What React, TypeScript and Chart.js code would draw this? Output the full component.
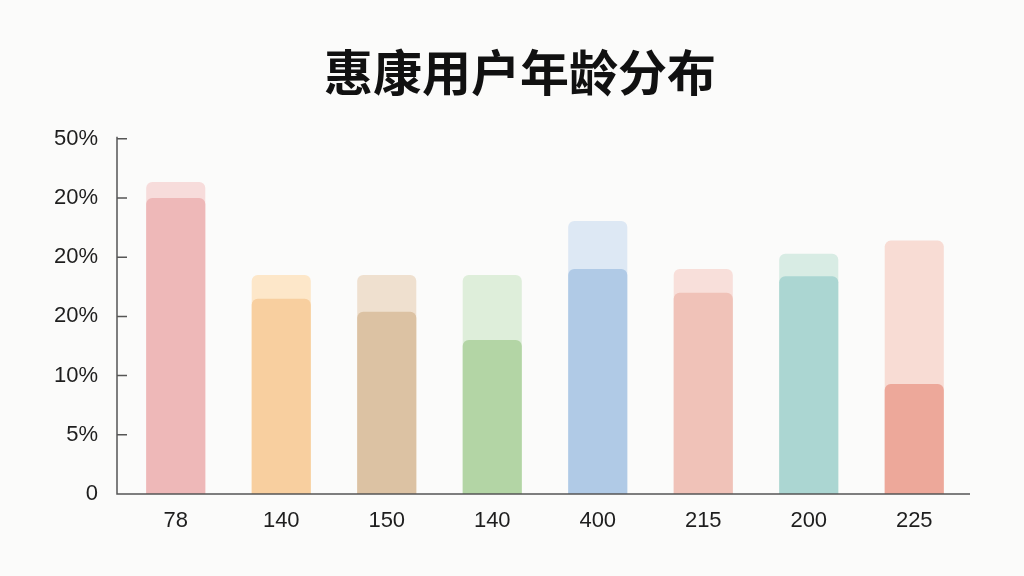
import { useEffect, useRef } from 'react';
import { Chart, registerables } from 'chart.js';

Chart.register(...registerables);

const categories = ['78', '140', '150', '140', '400', '215', '200', '225'];
const frontValues = [5.0, 3.3, 3.08, 2.6, 3.8, 3.4, 3.68, 1.86];
const backValues = [5.27, 3.7, 3.7, 3.7, 4.61, 3.8, 4.06, 4.28];
const yTickLabels = ['0', '5%', '10%', '20%', '20%', '20%', '50%'];

const frontColors = ['#eeb8b8', '#f8cf9f', '#dcc2a3', '#b3d5a5', '#b0cae6', '#f0c2b8', '#abd6d2', '#eda89a'];
const backColors = ['#f7dcdb', '#fde7c9', '#efe0cf', '#deeeda', '#dde8f4', '#f8dfda', '#d8ece4', '#f8dcd4'];

// axis lines with short ticks pointing into the plot
const axisPlugin = {
  id: 'axisLines',
  afterDatasetsDraw(chart: any) {
    const { ctx, chartArea, scales } = chart;
    const y = scales.y;
    const x0 = chartArea.left - 6;
    ctx.save();
    ctx.strokeStyle = '#555';
    ctx.lineWidth = 1.5;
    ctx.beginPath();
    ctx.moveTo(x0, chartArea.top - 2);
    ctx.lineTo(x0, chartArea.bottom);
    ctx.lineTo(chartArea.right + 3, chartArea.bottom);
    y.ticks.forEach((t: any) => {
      if (t.value === 0) return;
      const py = y.getPixelForValue(t.value);
      ctx.moveTo(x0, py);
      ctx.lineTo(x0 + 10, py);
    });
    ctx.stroke();
    ctx.restore();
  },
};

export default function App() {
  const chartRef = useRef<HTMLCanvasElement>(null);
  const chartInstance = useRef<Chart | null>(null);

  useEffect(() => {
    if (!chartRef.current) return;
    if (chartInstance.current) chartInstance.current.destroy();
    const ctx = chartRef.current.getContext('2d');
    if (!ctx) return;

    const tickFont = { family: '"Liberation Sans", Arial, sans-serif', size: 22 };

    chartInstance.current = new Chart(ctx, {
      type: 'bar',
      data: {
        labels: categories,
        datasets: [
          {
            label: 'front',
            data: frontValues,
            backgroundColor: frontColors,
            borderRadius: 6,
            order: 0,
          },
          {
            label: 'back',
            data: backValues,
            backgroundColor: backColors,
            borderRadius: 6,
            order: 1,
          },
        ],
      },
      options: {
        responsive: true,
        maintainAspectRatio: false,
        animation: false,
        layout: { padding: { left: 16, right: 0, top: 0, bottom: 0 } },
        datasets: {
          bar: {
            grouped: false,
            categoryPercentage: 1,
            barPercentage: 0.56,
          },
        },
        scales: {
          x: {
            grid: { display: false, drawTicks: false },
            border: { display: false },
            ticks: { font: tickFont, color: '#1e1e1e', padding: 14 },
            afterFit: (scale: any) => {
              scale.height = 82;
            },
          },
          y: {
            min: 0,
            max: 6,
            grid: { display: false, drawTicks: false },
            border: { display: false },
            ticks: {
              stepSize: 1,
              font: tickFont,
              color: '#1e1e1e',
              padding: 25,
              callback: (_v: any, i: number) => yTickLabels[i],
            },
            afterFit: (scale: any) => {
              scale.width = 107;
            },
          },
          y2: {
            position: 'right',
            min: 0,
            max: 6,
            grid: { display: false, drawTicks: false },
            border: { display: false },
            ticks: { display: false },
            afterFit: (scale: any) => {
              scale.width = 57;
            },
          },
        },
        plugins: {
          legend: { display: false },
          tooltip: { enabled: false },
          title: {
            display: true,
            text: '惠康用户年龄分布',
            color: '#111',
            font: { family: '"Noto Sans CJK SC", sans-serif', size: 49, weight: 'bold' },
            padding: { top: 43, bottom: 37 },
          },
        },
      },
      plugins: [axisPlugin],
    });

    return () => {
      if (chartInstance.current) {
        chartInstance.current.destroy();
        chartInstance.current = null;
      }
    };
  }, []);

  return (
    <div
      style={{
        position: 'fixed',
        left: 0,
        top: 0,
        width: 1024,
        height: 576,
        background: '#fbfbfa',
      }}
    >
      <canvas ref={chartRef} />
    </div>
  );
}
